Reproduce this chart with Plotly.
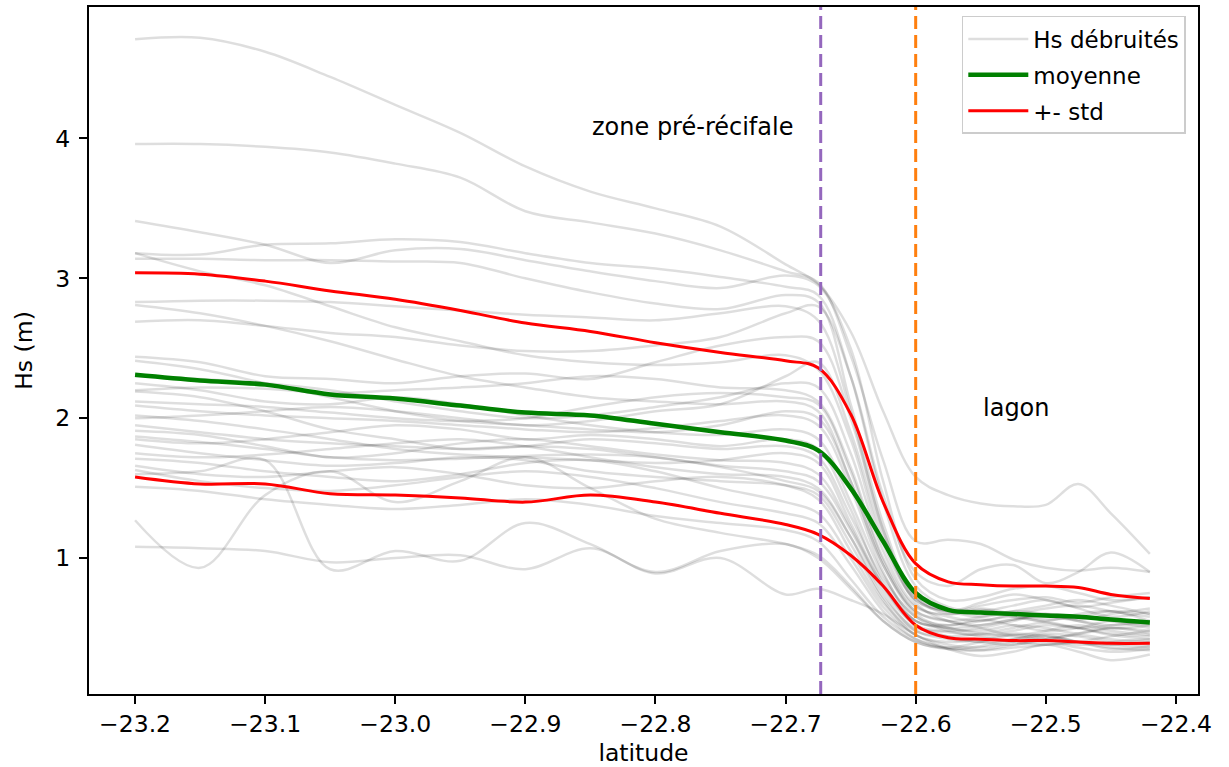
import plotly.graph_objects as go

latitude = [-23.2, -23.15, -23.1, -23.05, -23.0, -22.95, -22.9, -22.85, -22.8, -22.75,
            -22.7, -22.675, -22.65, -22.625, -22.6, -22.575, -22.55, -22.525, -22.5,
            -22.475, -22.45, -22.42]

hs_01 = [4.71, 4.72, 4.62, 4.44, 4.24, 4.04, 3.80, 3.62, 3.50, 3.37, 3.10, 2.96, 2.62, 2.05, 1.58, 1.45, 1.39, 1.37, 1.38, 1.53, 1.32, 1.03]
hs_02 = [3.96, 3.96, 3.94, 3.90, 3.82, 3.72, 3.48, 3.40, 3.32, 3.20, 3.05, 2.97, 2.45, 1.70, 1.12, 1.13, 1.10, 0.99, 0.93, 0.91, 0.93, 0.90]
hs_03 = [3.41, 3.33, 3.24, 3.11, 3.20, 3.21, 3.13, 3.05, 2.98, 2.93, 3.02, 2.95, 2.50, 1.55, 0.85, 0.70, 0.72, 0.78, 0.80, 0.75, 0.70, 0.72]
hs_04 = [3.18, 3.17, 3.24, 3.25, 3.28, 3.26, 3.18, 3.11, 3.07, 3.01, 2.94, 2.88, 2.30, 1.40, 0.80, 0.65, 0.62, 0.66, 0.70, 0.64, 0.58, 0.62]
hs_05 = [3.14, 3.14, 3.13, 3.13, 3.12, 3.11, 3.00, 2.90, 2.82, 2.78, 2.88, 2.83, 2.10, 1.25, 0.72, 0.60, 0.63, 0.58, 0.55, 0.60, 0.62, 0.55]
hs_06 = [3.18, 3.05, 2.95, 2.80, 2.65, 2.55, 2.45, 2.40, 2.38, 2.40, 2.45, 2.35, 1.85, 1.10, 0.70, 0.62, 0.58, 0.62, 0.66, 0.70, 0.66, 0.60]
hs_07 = [2.83, 2.84, 2.84, 2.83, 2.80, 2.77, 2.74, 2.72, 2.70, 2.75, 2.80, 2.70, 2.05, 1.20, 0.68, 0.55, 0.52, 0.56, 0.60, 0.55, 0.50, 0.52]
hs_08 = [2.81, 2.75, 2.66, 2.55, 2.42, 2.30, 2.22, 2.15, 2.12, 2.10, 2.12, 2.05, 1.55, 0.95, 0.60, 0.50, 0.48, 0.52, 0.50, 0.46, 0.50, 0.48]
hs_09 = [2.69, 2.70, 2.66, 2.61, 2.58, 2.52, 2.48, 2.48, 2.52, 2.58, 2.75, 2.80, 2.30, 1.45, 0.90, 0.80, 0.92, 0.95, 0.82, 0.90, 1.04, 0.90]
hs_10 = [2.44, 2.40, 2.30, 2.28, 2.25, 2.30, 2.32, 2.28, 2.40, 2.52, 2.58, 2.55, 2.00, 1.20, 0.72, 0.62, 0.66, 0.70, 0.72, 0.68, 0.72, 0.75]
hs_11 = [2.41, 2.35, 2.25, 2.15, 2.05, 1.98, 1.95, 1.92, 1.90, 1.95, 2.05, 2.00, 1.55, 0.95, 0.62, 0.55, 0.50, 0.45, 0.48, 0.52, 0.48, 0.45]
hs_12 = [2.20, 2.22, 2.21, 2.18, 2.20, 2.22, 2.25, 2.30, 2.28, 2.22, 2.20, 2.12, 1.65, 1.00, 0.65, 0.60, 0.64, 0.60, 0.56, 0.58, 0.62, 0.60]
hs_13 = [2.19, 2.15, 2.05, 1.92, 1.85, 1.78, 1.80, 1.85, 1.82, 1.78, 1.80, 1.72, 1.30, 0.85, 0.58, 0.48, 0.45, 0.48, 0.52, 0.50, 0.45, 0.42]
hs_14 = [2.09, 2.05, 2.02, 2.00, 1.98, 1.95, 1.92, 1.90, 1.93, 1.98, 2.02, 1.95, 1.50, 0.90, 0.55, 0.52, 0.55, 0.58, 0.54, 0.50, 0.52, 0.55]
hs_15 = [2.02, 1.98, 1.92, 1.85, 1.78, 1.74, 1.72, 1.70, 1.68, 1.70, 1.75, 1.68, 1.25, 0.80, 0.52, 0.44, 0.40, 0.42, 0.46, 0.44, 0.40, 0.38]
hs_16 = [1.95, 1.90, 1.85, 1.82, 1.80, 1.78, 1.80, 1.78, 1.72, 1.66, 1.62, 1.55, 1.20, 0.78, 0.52, 0.48, 0.50, 0.55, 0.60, 0.58, 0.55, 0.50]
hs_17 = [1.91, 1.88, 1.80, 1.72, 1.75, 1.82, 1.85, 1.80, 1.74, 1.70, 1.68, 1.60, 1.22, 0.80, 0.55, 0.50, 0.46, 0.44, 0.42, 0.46, 0.50, 0.46]
hs_18 = [1.87, 1.83, 1.78, 1.72, 1.70, 1.71, 1.73, 1.74, 1.72, 1.65, 1.55, 1.48, 1.15, 0.75, 0.48, 0.42, 0.40, 0.38, 0.42, 0.45, 0.42, 0.40]
hs_19 = [1.81, 1.75, 1.70, 1.66, 1.68, 1.72, 1.70, 1.62, 1.58, 1.55, 1.52, 1.45, 1.10, 0.70, 0.45, 0.40, 0.42, 0.46, 0.44, 0.40, 0.38, 0.40]
hs_20 = [1.75, 1.72, 1.74, 1.78, 1.82, 1.85, 1.80, 1.72, 1.65, 1.60, 1.58, 1.50, 1.15, 0.72, 0.50, 0.47, 0.44, 0.40, 0.38, 0.40, 0.44, 0.48]
hs_21 = [1.71, 1.68, 1.62, 1.58, 1.55, 1.60, 1.68, 1.70, 1.62, 1.50, 1.40, 1.32, 1.00, 0.65, 0.45, 0.38, 0.36, 0.40, 0.44, 0.40, 0.36, 0.34]
hs_22 = [1.66, 1.60, 1.58, 1.62, 1.65, 1.60, 1.52, 1.50, 1.55, 1.58, 1.52, 1.42, 1.05, 0.68, 0.48, 0.44, 0.46, 0.50, 0.54, 0.50, 0.46, 0.44]
hs_23 = [1.63, 1.55, 1.50, 1.48, 1.52, 1.58, 1.62, 1.58, 1.50, 1.40, 1.32, 1.25, 0.95, 0.62, 0.42, 0.35, 0.34, 0.38, 0.40, 0.36, 0.33, 0.35]
hs_24 = [1.51, 1.48, 1.42, 1.38, 1.35, 1.38, 1.42, 1.38, 1.30, 1.25, 1.20, 1.12, 0.85, 0.58, 0.42, 0.36, 0.34, 0.36, 0.38, 0.40, 0.38, 0.36]
hs_25 = [1.27, 0.93, 1.45, 1.62, 1.40, 1.55, 1.72, 1.50, 1.28, 1.18, 1.10, 1.02, 0.80, 0.55, 0.40, 0.35, 0.37, 0.42, 0.45, 0.40, 0.35, 0.37]
hs_26 = [1.60, 1.62, 1.70, 0.92, 1.05, 0.98, 1.25, 1.10, 0.90, 1.05, 1.10, 1.00, 0.78, 0.55, 0.40, 0.36, 0.40, 0.45, 0.42, 0.38, 0.40, 0.42]
hs_27 = [1.08, 1.07, 1.05, 0.97, 1.00, 1.02, 0.92, 1.07, 0.89, 1.00, 0.74, 0.78, 0.70, 0.60, 0.45, 0.35, 0.30, 0.33, 0.38, 0.33, 0.27, 0.31]
hs_28 = [2.30, 2.28, 2.25, 2.20, 2.12, 2.05, 2.00, 2.02, 2.08, 2.15, 2.25, 2.22, 1.75, 1.05, 0.66, 0.58, 0.55, 0.60, 0.64, 0.66, 0.62, 0.58]
hs_29 = [2.25, 2.20, 2.12, 2.10, 2.15, 2.10, 2.02, 1.95, 1.90, 1.88, 1.92, 1.85, 1.40, 0.88, 0.58, 0.52, 0.56, 0.52, 0.48, 0.50, 0.55, 0.52]
hs_30 = [2.00, 2.02, 2.05, 2.08, 2.05, 2.00, 1.95, 1.98, 2.05, 2.10, 2.30, 2.40, 1.90, 1.15, 0.70, 0.62, 0.68, 0.74, 0.70, 0.65, 0.68, 0.72]
hs_31 = [1.85, 1.82, 1.85, 1.90, 1.95, 1.92, 1.85, 1.88, 1.85, 1.80, 1.85, 1.78, 1.35, 0.82, 0.55, 0.50, 0.52, 0.56, 0.58, 0.55, 0.52, 0.54]
hs_32 = [2.12, 2.10, 2.08, 2.04, 2.00, 1.98, 2.00, 2.08, 2.15, 2.18, 2.15, 2.10, 1.62, 0.98, 0.62, 0.55, 0.58, 0.62, 0.60, 0.56, 0.60, 0.64]

hs_series = [hs_01, hs_02, hs_03, hs_04, hs_05, hs_06, hs_07, hs_08, hs_09, hs_10, hs_11,
             hs_12, hs_13, hs_14, hs_15, hs_16, hs_17, hs_18, hs_19, hs_20, hs_21, hs_22,
             hs_23, hs_24, hs_25, hs_26, hs_27, hs_28, hs_29, hs_30, hs_31, hs_32]

hs_mean = [2.31, 2.27, 2.24, 2.17, 2.14, 2.09, 2.04, 2.02, 1.96, 1.90, 1.84, 1.77, 1.50, 1.12,
           0.75, 0.63, 0.61, 0.60, 0.59, 0.58, 0.56, 0.54]
hs_upper = [3.04, 3.03, 2.98, 2.91, 2.85, 2.77, 2.68, 2.62, 2.54, 2.47, 2.41, 2.36, 2.03, 1.40,
            0.96, 0.83, 0.81, 0.80, 0.80, 0.79, 0.74, 0.71]
hs_lower = [1.58, 1.53, 1.53, 1.46, 1.45, 1.43, 1.40, 1.45, 1.40, 1.32, 1.24, 1.17, 1.02, 0.80,
            0.52, 0.43, 0.42, 0.41, 0.41, 0.40, 0.39, 0.39]

reef_lat = -22.673
lagoon_lat = -22.6
zone_labels = ["zone pré-récifale", "lagon"]
zone_label_x = [-22.85, -22.55]
zone_label_y = [4.085, 2.075]

FONT = "DejaVu Sans"
FS = 23.5

fig = go.Figure()
for i, ys in enumerate(hs_series):
    fig.add_trace(go.Scatter(
        x=latitude, y=ys, mode="lines", line=dict(color="rgba(0,0,0,0.13)", width=2.5, shape="spline"),
        name="Hs débruités", legendgroup="g1", showlegend=(i == 0), hoverinfo="skip"))

fig.add_trace(go.Scatter(x=latitude, y=hs_mean, mode="lines", name="moyenne", legendgroup="g2",
                         line=dict(color="#008000", width=4.5, shape="spline")))
fig.add_trace(go.Scatter(x=latitude, y=hs_upper, mode="lines", name="+- std", legendgroup="g3",
                         line=dict(color="#ff0000", width=3, shape="spline")))
fig.add_trace(go.Scatter(x=latitude, y=hs_lower, mode="lines", name="+- std", legendgroup="g3",
                         showlegend=False, line=dict(color="#ff0000", width=3, shape="spline")))

fig.add_vline(x=reef_lat, line=dict(color="#9467bd", width=3, dash="13px,6px"))
fig.add_vline(x=lagoon_lat, line=dict(color="#ff7f0e", width=3, dash="13px,6px"))

for t, x, y in zip(zone_labels, zone_label_x, zone_label_y):
    fig.add_annotation(x=x, y=y, text=t, showarrow=False, xanchor="left", yanchor="middle",
                       font=dict(family=FONT, size=24, color="black"))

axis_common = dict(showline=True, mirror=True, linecolor="black", linewidth=2,
                   ticks="outside", ticklen=8, tickwidth=2, tickcolor="black",
                   showgrid=False, zeroline=False, automargin=False,
                   tickfont=dict(family=FONT, size=FS, color="black"))

fig.update_layout(
    width=1229, height=767,
    margin=dict(l=89, r=31, t=7, b=73),
    paper_bgcolor="white", plot_bgcolor="white",
    font=dict(family=FONT, size=FS, color="black"),
    xaxis=dict(range=[-23.2354, -22.383], tickvals=[-23.2, -23.1, -23.0, -22.9, -22.8, -22.7, -22.6, -22.5, -22.4],
               tickformat=".1f", title=dict(text="latitude", font=dict(family=FONT, size=FS), standoff=12),
               **axis_common),
    yaxis=dict(range=[0.028, 4.94], tickvals=[1, 2, 3, 4], ticklabelstandoff=4,
               title=dict(text="Hs (m)", font=dict(family=FONT, size=FS), standoff=16),
               **axis_common),
    legend=dict(x=0.989, y=0.987, xanchor="right", yanchor="top", bgcolor="rgba(255,255,255,0.8)",
                bordercolor="#cccccc", borderwidth=1.5, font=dict(family=FONT, size=23, color="black"),
                tracegroupgap=3, itemwidth=60),
    showlegend=True,
)

fig.write_html("out.html")
